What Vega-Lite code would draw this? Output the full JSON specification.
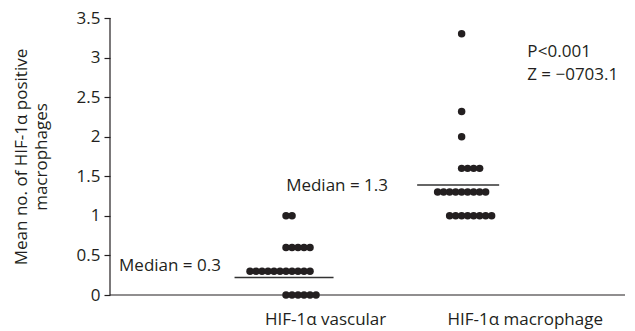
{
  "$schema": "https://vega.github.io/schema/vega-lite/v6.json",
  "autosize": {"type": "none"},
  "width": 515,
  "height": 277,
  "padding": {"left": 110, "top": 18, "right": 10, "bottom": 36},
  "background": "white",
  "config": {
    "view": {"stroke": null, "fill": null},
    "font": "Open Sans",
    "axis": {"grid": false, "tickColor": "#231f20", "tickWidth": 1.2, "labelColor": "#231f20", "titleColor": "#231f20", "labelFont": "Open Sans", "titleFont": "Open Sans", "labelFontSize": 17, "titleFontSize": 17, "titleFontWeight": "normal"},
    "axisY": {"values": [0, 0.5, 1, 1.5, 2, 2.5, 3, 3.5], "format": ".1~f", "labelOverlap": false, "tickSize": 6, "labelPadding": 4, "titlePadding": 26, "titleLineHeight": 20, "domain": false}
  },
  "datasets": {
    "dots": [
      {"group": "HIF-1α vascular", "value": 0, "k": 0},
      {"group": "HIF-1α vascular", "value": 0, "k": 1},
      {"group": "HIF-1α vascular", "value": 0, "k": 2},
      {"group": "HIF-1α vascular", "value": 0, "k": 3},
      {"group": "HIF-1α vascular", "value": 0, "k": 4},
      {"group": "HIF-1α vascular", "value": 0, "k": 5},
      {"group": "HIF-1α vascular", "value": 0.3, "k": -6},
      {"group": "HIF-1α vascular", "value": 0.3, "k": -5},
      {"group": "HIF-1α vascular", "value": 0.3, "k": -4},
      {"group": "HIF-1α vascular", "value": 0.3, "k": -3},
      {"group": "HIF-1α vascular", "value": 0.3, "k": -2},
      {"group": "HIF-1α vascular", "value": 0.3, "k": -1},
      {"group": "HIF-1α vascular", "value": 0.3, "k": 0},
      {"group": "HIF-1α vascular", "value": 0.3, "k": 1},
      {"group": "HIF-1α vascular", "value": 0.3, "k": 2},
      {"group": "HIF-1α vascular", "value": 0.3, "k": 3},
      {"group": "HIF-1α vascular", "value": 0.3, "k": 4},
      {"group": "HIF-1α vascular", "value": 0.6, "k": 0},
      {"group": "HIF-1α vascular", "value": 0.6, "k": 1},
      {"group": "HIF-1α vascular", "value": 0.6, "k": 2},
      {"group": "HIF-1α vascular", "value": 0.6, "k": 3},
      {"group": "HIF-1α vascular", "value": 0.6, "k": 4},
      {"group": "HIF-1α vascular", "value": 1.0, "k": 0},
      {"group": "HIF-1α vascular", "value": 1.0, "k": 1},
      {"group": "HIF-1α  macrophage", "value": 1.0, "k": -6},
      {"group": "HIF-1α  macrophage", "value": 1.0, "k": -5},
      {"group": "HIF-1α  macrophage", "value": 1.0, "k": -4},
      {"group": "HIF-1α  macrophage", "value": 1.0, "k": -3},
      {"group": "HIF-1α  macrophage", "value": 1.0, "k": -2},
      {"group": "HIF-1α  macrophage", "value": 1.0, "k": -1},
      {"group": "HIF-1α  macrophage", "value": 1.0, "k": 0},
      {"group": "HIF-1α  macrophage", "value": 1.0, "k": 1},
      {"group": "HIF-1α  macrophage", "value": 1.3, "k": -8},
      {"group": "HIF-1α  macrophage", "value": 1.3, "k": -7},
      {"group": "HIF-1α  macrophage", "value": 1.3, "k": -6},
      {"group": "HIF-1α  macrophage", "value": 1.3, "k": -5},
      {"group": "HIF-1α  macrophage", "value": 1.3, "k": -4},
      {"group": "HIF-1α  macrophage", "value": 1.3, "k": -3},
      {"group": "HIF-1α  macrophage", "value": 1.3, "k": -2},
      {"group": "HIF-1α  macrophage", "value": 1.3, "k": -1},
      {"group": "HIF-1α  macrophage", "value": 1.3, "k": 0},
      {"group": "HIF-1α  macrophage", "value": 1.6, "k": -4},
      {"group": "HIF-1α  macrophage", "value": 1.6, "k": -3},
      {"group": "HIF-1α  macrophage", "value": 1.6, "k": -2},
      {"group": "HIF-1α  macrophage", "value": 1.6, "k": -1},
      {"group": "HIF-1α  macrophage", "value": 2.0, "k": -4},
      {"group": "HIF-1α  macrophage", "value": 2.32, "k": -4},
      {"group": "HIF-1α  macrophage", "value": 3.3, "k": -4}
    ],
    "medians": [
      {"group": "HIF-1α vascular", "value": 0.22, "k": -0.33},
      {"group": "HIF-1α  macrophage", "value": 1.39, "k": -4.58}
    ],
    "notes": [
      {"group": "HIF-1α vascular", "value": 0.3, "k": -27.83, "text": "Median = 0.3", "style": "normal"},
      {"group": "HIF-1α  macrophage", "value": 1.31, "k": -33.25, "text": "Median = 1.3", "style": "normal"},
      {"group": "HIF-1α  macrophage", "value": 3.01, "k": 6.92, "text": "P", "style": "italic"},
      {"group": "HIF-1α  macrophage", "value": 3.01, "k": 8.7, "text": "<0.001", "style": "normal"},
      {"group": "HIF-1α  macrophage", "value": 2.72, "k": 6.92, "text": "Z = −0703.1", "style": "normal"}
    ]
  },
  "layer": [
    {
      "data": {"values": [{}]},
      "mark": {"type": "rule", "color": "#231f20", "strokeWidth": 1.2},
      "encoding": {"y": {"datum": 0, "type": "quantitative", "axis": {"title": ["Mean no. of HIF-1α positive", "macrophages"]}}}
    },
    {
      "data": {"values": [{}]},
      "mark": {"type": "rule", "color": "#231f20", "strokeWidth": 1.2},
      "encoding": {"x": {"value": 0}, "y": {"datum": 0, "type": "quantitative", "axis": {"title": ["Mean no. of HIF-1α positive", "macrophages"]}}, "y2": {"datum": 3.5}}
    },
    {
      "encoding": {
        "x": {
          "field": "group", "type": "nominal", "sort": null,
          "scale": {"domain": ["HIF-1α vascular", "HIF-1α  macrophage"], "paddingInner": 0, "paddingOuter": 0.29, "align": 1},
          "axis": {"title": null, "ticks": false, "labelAngle": 0, "labelPadding": 16, "domain": false}
        },
        "xOffset": {
          "field": "k", "type": "quantitative",
          "scale": {"domain": [-40, 10], "range": [-179.75, 120.25], "nice": false, "zero": false}
        },
        "y": {
          "field": "value", "type": "quantitative",
          "scale": {"domain": [0, 3.5], "nice": false, "zero": true},
          "axis": {"title": ["Mean no. of HIF-1α positive", "macrophages"]}
        }
      },
      "layer": [
        {
          "data": {"name": "dots"},
          "mark": {"type": "circle", "size": 56, "opacity": 1, "color": "#231f20"}
        },
        {
          "data": {"name": "medians"},
          "mark": {"type": "tick", "thickness": 1.5, "opacity": 1, "color": "#333333"},
          "encoding": {
            "size": {"field": "group", "type": "nominal", "scale": {"domain": ["HIF-1α vascular", "HIF-1α  macrophage"], "range": [99, 82]}, "legend": null}
          }
        },
        {
          "data": {"name": "notes"},
          "mark": {"type": "text", "align": "left", "baseline": "alphabetic", "fontSize": 17, "color": "#231f20"},
          "encoding": {
            "text": {"field": "text"},
            "fontStyle": {"field": "style", "type": "nominal", "scale": {"domain": ["normal", "italic"], "range": ["normal", "italic"]}, "legend": null}
          }
        }
      ]
    }
  ]
}
